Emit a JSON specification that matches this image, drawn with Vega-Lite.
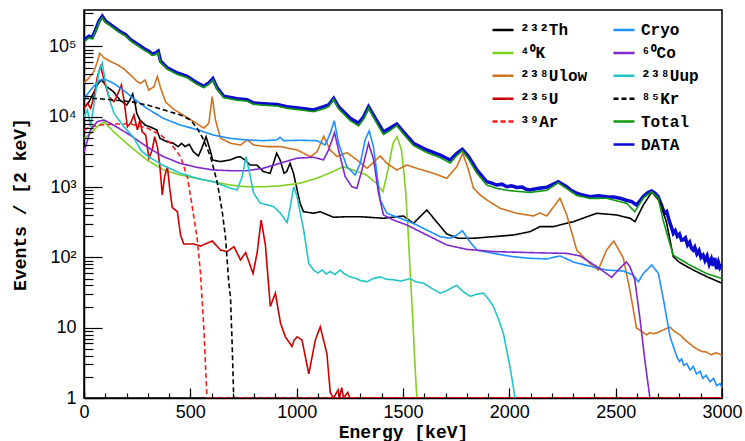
{
"$schema": "https://vega.github.io/schema/vega-lite/v6.json",
"width": 638, "height": 388,
"autosize": {"type": "none"},
"padding": {"left": 84, "top": 10, "right": 23, "bottom": 43},
"background": "white",
"config": {
  "view": {"stroke": "black", "strokeWidth": 1.5},
  "axis": {"labelFont": "Liberation Sans", "labelFontSize": 18, "labelColor": "black", "titleFont": "Liberation Mono", "titleFontWeight": "bold", "titleFontSize": 18, "titleColor": "black", "domainColor": "black", "domainWidth": 1.5, "tickColor": "black", "tickWidth": 1.2, "grid": false, "labelOverlap": false, "labelFlush": false},
  "legend": {"orient": "none", "title": null, "symbolType": "stroke", "symbolSize": 441, "symbolStrokeWidth": 2.5, "labelFont": "Liberation Mono", "labelFontWeight": "bold", "labelFontSize": 16, "labelColor": "black", "rowPadding": 2.9, "labelOffset": 5, "padding": 0, "symbolOpacity": 1}
},
"datasets": {
 "obs": [
  {"s":"DATA","e":3,"v":124000},{"s":"DATA","e":23,"v":140000},{"s":"DATA","e":39,"v":135000},{"s":"DATA","e":55,"v":173000},{"s":"DATA","e":70,"v":228000},{"s":"DATA","e":86,"v":269000},{"s":"DATA","e":102,"v":228000},{"s":"DATA","e":125,"v":204000},{"s":"DATA","e":157,"v":173000},{"s":"DATA","e":180,"v":156000},{"s":"DATA","e":196,"v":147000},{"s":"DATA","e":219,"v":125000},{"s":"DATA","e":243,"v":112000},{"s":"DATA","e":266,"v":101000},{"s":"DATA","e":290,"v":90000},{"s":"DATA","e":305,"v":85500},{"s":"DATA","e":321,"v":78000},{"s":"DATA","e":335,"v":80000},{"s":"DATA","e":349,"v":85500},{"s":"DATA","e":360,"v":62000},{"s":"DATA","e":392,"v":49500},{"s":"DATA","e":439,"v":42000},{"s":"DATA","e":485,"v":37700},{"s":"DATA","e":532,"v":30300},{"s":"DATA","e":563,"v":27200},{"s":"DATA","e":587,"v":30300},{"s":"DATA","e":606,"v":34800},{"s":"DATA","e":626,"v":25700},{"s":"DATA","e":657,"v":19600},{"s":"DATA","e":720,"v":18100},{"s":"DATA","e":767,"v":17500},{"s":"DATA","e":798,"v":15700},{"s":"DATA","e":861,"v":15200},{"s":"DATA","e":908,"v":14900},{"s":"DATA","e":955,"v":13900},{"s":"DATA","e":1017,"v":13200},{"s":"DATA","e":1080,"v":12500},{"s":"DATA","e":1127,"v":13900},{"s":"DATA","e":1150,"v":14700},{"s":"DATA","e":1174,"v":18300},{"s":"DATA","e":1197,"v":13900},{"s":"DATA","e":1252,"v":9500},{"s":"DATA","e":1291,"v":8100},{"s":"DATA","e":1315,"v":10000},{"s":"DATA","e":1338,"v":13900},{"s":"DATA","e":1370,"v":9500},{"s":"DATA","e":1408,"v":6100},{"s":"DATA","e":1440,"v":6900},{"s":"DATA","e":1471,"v":7900},{"s":"DATA","e":1502,"v":6100},{"s":"DATA","e":1549,"v":4200},{"s":"DATA","e":1612,"v":3370},{"s":"DATA","e":1675,"v":2860},{"s":"DATA","e":1722,"v":2430},{"s":"DATA","e":1753,"v":3030},{"s":"DATA","e":1779,"v":3450},{"s":"DATA","e":1808,"v":2710},{"s":"DATA","e":1847,"v":1750},{"s":"DATA","e":1894,"v":1190},{"s":"DATA","e":1915,"v":1150},{"s":"DATA","e":1941,"v":1070},{"s":"DATA","e":1965,"v":1100},{"s":"DATA","e":1988,"v":1010},{"s":"DATA","e":2010,"v":1040},{"s":"DATA","e":2035,"v":986},{"s":"DATA","e":2060,"v":1000},{"s":"DATA","e":2080,"v":930},{"s":"DATA","e":2097,"v":910},{"s":"DATA","e":2113,"v":930},{"s":"DATA","e":2140,"v":960},{"s":"DATA","e":2176,"v":994},{"s":"DATA","e":2200,"v":1080},{"s":"DATA","e":2230,"v":1190},{"s":"DATA","e":2250,"v":1100},{"s":"DATA","e":2270,"v":1010},{"s":"DATA","e":2290,"v":900},{"s":"DATA","e":2317,"v":816},{"s":"DATA","e":2345,"v":770},{"s":"DATA","e":2379,"v":730},{"s":"DATA","e":2420,"v":750},{"s":"DATA","e":2457,"v":730},{"s":"DATA","e":2490,"v":720},{"s":"DATA","e":2520,"v":693},{"s":"DATA","e":2550,"v":650},{"s":"DATA","e":2575,"v":620},{"s":"DATA","e":2598,"v":556},{"s":"DATA","e":2615,"v":640},{"s":"DATA","e":2629,"v":730},{"s":"DATA","e":2650,"v":830},{"s":"DATA","e":2669,"v":880},{"s":"DATA","e":2685,"v":820},{"s":"DATA","e":2700,"v":730},{"s":"DATA","e":2715,"v":560},{"s":"DATA","e":2730,"v":420},{"s":"DATA","e":2740,"v":447},{"s":"DATA","e":2752,"v":330},{"s":"DATA","e":2762,"v":270},{"s":"DATA","e":2771,"v":220},{"s":"DATA","e":2780,"v":240},{"s":"DATA","e":2790,"v":200},{"s":"DATA","e":2800,"v":215},{"s":"DATA","e":2810,"v":175},{"s":"DATA","e":2818,"v":177},{"s":"DATA","e":2828,"v":190},{"s":"DATA","e":2838,"v":150},{"s":"DATA","e":2848,"v":165},{"s":"DATA","e":2856,"v":135},{"s":"DATA","e":2864,"v":127},{"s":"DATA","e":2872,"v":140},{"s":"DATA","e":2882,"v":112},{"s":"DATA","e":2892,"v":125},{"s":"DATA","e":2901,"v":100},{"s":"DATA","e":2911,"v":108},{"s":"DATA","e":2920,"v":90},{"s":"DATA","e":2930,"v":105},{"s":"DATA","e":2940,"v":80},{"s":"DATA","e":2950,"v":95},{"s":"DATA","e":2958,"v":76},{"s":"DATA","e":2966,"v":98},{"s":"DATA","e":2975,"v":68},{"s":"DATA","e":2983,"v":85},{"s":"DATA","e":2990,"v":72},{"s":"DATA","e":2998,"v":80}
 ],
 "left": [
  {"s":"²³²Th","e":5,"v":13900},{"s":"²³²Th","e":20,"v":15600},{"s":"²³²Th","e":36,"v":19300},{"s":"²³²Th","e":52,"v":24000},{"s":"²³²Th","e":67,"v":30000},{"s":"²³²Th","e":83,"v":33400},{"s":"²³²Th","e":107,"v":26800},{"s":"²³²Th","e":138,"v":22800},{"s":"²³²Th","e":169,"v":17300},{"s":"²³²Th","e":201,"v":14700},{"s":"²³²Th","e":216,"v":17300},{"s":"²³²Th","e":229,"v":21100},{"s":"²³²Th","e":240,"v":15600},{"s":"²³²Th","e":248,"v":11200},{"s":"²³²Th","e":263,"v":9000},{"s":"²³²Th","e":287,"v":7640},{"s":"²³²Th","e":310,"v":7200},{"s":"²³²Th","e":342,"v":6500},{"s":"²³²Th","e":357,"v":4940},{"s":"²³²Th","e":389,"v":4430},{"s":"²³²Th","e":420,"v":4200},{"s":"²³²Th","e":443,"v":3760},{"s":"²³²Th","e":459,"v":4200},{"s":"²³²Th","e":475,"v":3760},{"s":"²³²Th","e":495,"v":4060},{"s":"²³²Th","e":514,"v":3190},{"s":"²³²Th","e":538,"v":2770},{"s":"²³²Th","e":554,"v":3560},{"s":"²³²Th","e":574,"v":5200},{"s":"²³²Th","e":593,"v":3370},{"s":"²³²Th","e":605,"v":2430},{"s":"²³²Th","e":640,"v":2300},{"s":"²³²Th","e":687,"v":2430},{"s":"²³²Th","e":718,"v":2660},{"s":"²³²Th","e":734,"v":2710},{"s":"²³²Th","e":757,"v":2430},{"s":"²³²Th","e":781,"v":2060},{"s":"²³²Th","e":812,"v":2060},{"s":"²³²Th","e":844,"v":1660},{"s":"²³²Th","e":875,"v":1570},{"s":"²³²Th","e":891,"v":2180},{"s":"²³²Th","e":906,"v":3030},{"s":"²³²Th","e":922,"v":2430},{"s":"²³²Th","e":941,"v":1570},{"s":"²³²Th","e":953,"v":1660},{"s":"²³²Th","e":969,"v":2180},{"s":"²³²Th","e":985,"v":1570},{"s":"²³²Th","e":1016,"v":589},{"s":"²³²Th","e":1032,"v":447},{"s":"²³²Th","e":1079,"v":424},{"s":"²³²Th","e":1110,"v":447},{"s":"²³²Th","e":1173,"v":372},{"s":"²³²Th","e":1236,"v":379},{"s":"²³²Th","e":1298,"v":379},{"s":"²³²Th","e":1408,"v":360},{"s":"²³²Th","e":1502,"v":388},{"s":"²³²Th","e":1549,"v":305},{"s":"²³²Th","e":1612,"v":472},{"s":"²³²Th","e":1659,"v":317},{"s":"²³²Th","e":1706,"v":215},{"s":"²³²Th","e":1759,"v":187},{"s":"²³²Th","e":1831,"v":187},{"s":"²³²Th","e":1925,"v":197},{"s":"²³²Th","e":2019,"v":208},{"s":"²³²Th","e":2097,"v":232},{"s":"²³²Th","e":2144,"v":274},{"s":"²³²Th","e":2207,"v":274},{"s":"²³²Th","e":2301,"v":322},{"s":"²³²Th","e":2411,"v":424},{"s":"²³²Th","e":2505,"v":401},{"s":"²³²Th","e":2568,"v":360},{"s":"²³²Th","e":2591,"v":322},{"s":"²³²Th","e":2630,"v":556},{"s":"²³²Th","e":2670,"v":851},{"s":"²³²Th","e":2709,"v":620},{"s":"²³²Th","e":2740,"v":305},{"s":"²³²Th","e":2771,"v":102},{"s":"²³²Th","e":2800,"v":85},{"s":"²³²Th","e":2865,"v":66},{"s":"²³²Th","e":2930,"v":53},{"s":"²³²Th","e":2999,"v":43},
  {"s":"⁴⁰K","e":0,"v":4900},{"s":"⁴⁰K","e":31,"v":5800},{"s":"⁴⁰K","e":62,"v":7200},{"s":"⁴⁰K","e":93,"v":8500},{"s":"⁴⁰K","e":140,"v":6100},{"s":"⁴⁰K","e":218,"v":3760},{"s":"⁴⁰K","e":296,"v":2430},{"s":"⁴⁰K","e":374,"v":1750},{"s":"⁴⁰K","e":452,"v":1490},{"s":"⁴⁰K","e":530,"v":1330},{"s":"⁴⁰K","e":608,"v":1190},{"s":"⁴⁰K","e":686,"v":1070},{"s":"⁴⁰K","e":765,"v":1010},{"s":"⁴⁰K","e":843,"v":1010},{"s":"⁴⁰K","e":921,"v":1040},{"s":"⁴⁰K","e":1014,"v":1130},{"s":"⁴⁰K","e":1093,"v":1330},{"s":"⁴⁰K","e":1171,"v":1660},{"s":"⁴⁰K","e":1218,"v":1950},{"s":"⁴⁰K","e":1265,"v":1750},{"s":"⁴⁰K","e":1328,"v":1490},{"s":"⁴⁰K","e":1375,"v":1130},{"s":"⁴⁰K","e":1406,"v":860},{"s":"⁴⁰K","e":1429,"v":1750},{"s":"⁴⁰K","e":1453,"v":4200},{"s":"⁴⁰K","e":1472,"v":5200},{"s":"⁴⁰K","e":1493,"v":3370},{"s":"⁴⁰K","e":1505,"v":1500},{"s":"⁴⁰K","e":1513,"v":816},{"s":"⁴⁰K","e":1522,"v":300},{"s":"⁴⁰K","e":1532,"v":80},{"s":"⁴⁰K","e":1545,"v":15},{"s":"⁴⁰K","e":1555,"v":3.5},{"s":"⁴⁰K","e":1565,"v":1},
  {"s":"²³⁸Ulow","e":0,"v":30300},{"s":"²³⁸Ulow","e":23,"v":35600},{"s":"²³⁸Ulow","e":47,"v":44400},{"s":"²³⁸Ulow","e":63,"v":61000},{"s":"²³⁸Ulow","e":74,"v":80000},{"s":"²³⁸Ulow","e":94,"v":69000},{"s":"²³⁸Ulow","e":125,"v":61000},{"s":"²³⁸Ulow","e":157,"v":55000},{"s":"²³⁸Ulow","e":188,"v":47900},{"s":"²³⁸Ulow","e":219,"v":39300},{"s":"²³⁸Ulow","e":251,"v":31600},{"s":"²³⁸Ulow","e":266,"v":29800},{"s":"²³⁸Ulow","e":287,"v":33400},{"s":"²³⁸Ulow","e":305,"v":24000},{"s":"²³⁸Ulow","e":329,"v":26800},{"s":"²³⁸Ulow","e":345,"v":37400},{"s":"²³⁸Ulow","e":360,"v":25700},{"s":"²³⁸Ulow","e":384,"v":16200},{"s":"²³⁸Ulow","e":423,"v":12700},{"s":"²³⁸Ulow","e":470,"v":10400},{"s":"²³⁸Ulow","e":517,"v":8500},{"s":"²³⁸Ulow","e":563,"v":6900},{"s":"²³⁸Ulow","e":587,"v":8100},{"s":"²³⁸Ulow","e":603,"v":19300},{"s":"²³⁸Ulow","e":618,"v":9000},{"s":"²³⁸Ulow","e":642,"v":4940},{"s":"²³⁸Ulow","e":689,"v":4200},{"s":"²³⁸Ulow","e":736,"v":3970},{"s":"²³⁸Ulow","e":767,"v":4680},{"s":"²³⁸Ulow","e":798,"v":3970},{"s":"²³⁸Ulow","e":861,"v":3760},{"s":"²³⁸Ulow","e":924,"v":3760},{"s":"²³⁸Ulow","e":1002,"v":3370},{"s":"²³⁸Ulow","e":1065,"v":2710},{"s":"²³⁸Ulow","e":1096,"v":3190},{"s":"²³⁸Ulow","e":1127,"v":5300},{"s":"²³⁸Ulow","e":1158,"v":3370},{"s":"²³⁸Ulow","e":1190,"v":2710},{"s":"²³⁸Ulow","e":1237,"v":3090},{"s":"²³⁸Ulow","e":1284,"v":2430},{"s":"²³⁸Ulow","e":1331,"v":1850},{"s":"²³⁸Ulow","e":1393,"v":2770},{"s":"²³⁸Ulow","e":1424,"v":2180},{"s":"²³⁸Ulow","e":1471,"v":1750},{"s":"²³⁸Ulow","e":1518,"v":2060},{"s":"²³⁸Ulow","e":1565,"v":1850},{"s":"²³⁸Ulow","e":1643,"v":1570},{"s":"²³⁸Ulow","e":1706,"v":1330},{"s":"²³⁸Ulow","e":1753,"v":1950},{"s":"²³⁸Ulow","e":1781,"v":3030},{"s":"²³⁸Ulow","e":1808,"v":1750},{"s":"²³⁸Ulow","e":1831,"v":971},{"s":"²³⁸Ulow","e":1863,"v":772},{"s":"²³⁸Ulow","e":1894,"v":656},{"s":"²³⁸Ulow","e":1957,"v":499},{"s":"²³⁸Ulow","e":2035,"v":424},{"s":"²³⁸Ulow","e":2113,"v":388},{"s":"²³⁸Ulow","e":2144,"v":428},{"s":"²³⁸Ulow","e":2176,"v":388},{"s":"²³⁸Ulow","e":2238,"v":693},{"s":"²³⁸Ulow","e":2270,"v":401},{"s":"²³⁸Ulow","e":2317,"v":127},{"s":"²³⁸Ulow","e":2379,"v":82},{"s":"²³⁸Ulow","e":2418,"v":66},{"s":"²³⁸Ulow","e":2457,"v":127},{"s":"²³⁸Ulow","e":2491,"v":171},{"s":"²³⁸Ulow","e":2536,"v":98},{"s":"²³⁸Ulow","e":2567,"v":34},{"s":"²³⁸Ulow","e":2598,"v":9.9},{"s":"²³⁸Ulow","e":2645,"v":7.9},{"s":"²³⁸Ulow","e":2660,"v":8.5},{"s":"²³⁸Ulow","e":2680,"v":8.2},{"s":"²³⁸Ulow","e":2708,"v":8.8},{"s":"²³⁸Ulow","e":2730,"v":9.5},{"s":"²³⁸Ulow","e":2756,"v":10.2},{"s":"²³⁸Ulow","e":2770,"v":9.2},{"s":"²³⁸Ulow","e":2785,"v":8.5},{"s":"²³⁸Ulow","e":2803,"v":7.9},{"s":"²³⁸Ulow","e":2820,"v":7.0},{"s":"²³⁸Ulow","e":2840,"v":6.2},{"s":"²³⁸Ulow","e":2865,"v":5.4},{"s":"²³⁸Ulow","e":2885,"v":4.9},{"s":"²³⁸Ulow","e":2905,"v":4.6},{"s":"²³⁸Ulow","e":2928,"v":4.5},{"s":"²³⁸Ulow","e":2950,"v":4.1},{"s":"²³⁸Ulow","e":2970,"v":4.4},{"s":"²³⁸Ulow","e":2991,"v":4.2},{"s":"²³⁸Ulow","e":3000,"v":4.0},
  {"s":"²³⁵U","e":0,"v":13200},{"s":"²³⁵U","e":16,"v":15600},{"s":"²³⁵U","e":31,"v":13200},{"s":"²³⁵U","e":47,"v":19300},{"s":"²³⁵U","e":63,"v":37200},{"s":"²³⁵U","e":78,"v":52000},{"s":"²³⁵U","e":94,"v":33400},{"s":"²³⁵U","e":117,"v":19300},{"s":"²³⁵U","e":141,"v":16400},{"s":"²³⁵U","e":157,"v":20400},{"s":"²³⁵U","e":176,"v":28300},{"s":"²³⁵U","e":188,"v":17300},{"s":"²³⁵U","e":204,"v":7200},{"s":"²³⁵U","e":219,"v":8100},{"s":"²³⁵U","e":235,"v":10600},{"s":"²³⁵U","e":251,"v":6500},{"s":"²³⁵U","e":263,"v":9000},{"s":"²³⁵U","e":274,"v":6100},{"s":"²³⁵U","e":290,"v":5500},{"s":"²³⁵U","e":305,"v":2570},{"s":"²³⁵U","e":321,"v":3370},{"s":"²³⁵U","e":332,"v":5200},{"s":"²³⁵U","e":345,"v":3760},{"s":"²³⁵U","e":357,"v":1950},{"s":"²³⁵U","e":368,"v":772},{"s":"²³⁵U","e":379,"v":1410},{"s":"²³⁵U","e":392,"v":1950},{"s":"²³⁵U","e":404,"v":910},{"s":"²³⁵U","e":415,"v":513},{"s":"²³⁵U","e":439,"v":447},{"s":"²³⁵U","e":454,"v":208},{"s":"²³⁵U","e":469,"v":155},{"s":"²³⁵U","e":516,"v":155},{"s":"²³⁵U","e":548,"v":145},{"s":"²³⁵U","e":603,"v":171},{"s":"²³⁵U","e":642,"v":127},{"s":"²³⁵U","e":673,"v":121},{"s":"²³⁵U","e":705,"v":142},{"s":"²³⁵U","e":736,"v":92},{"s":"²³⁵U","e":760,"v":117},{"s":"²³⁵U","e":795,"v":59},{"s":"²³⁵U","e":814,"v":116},{"s":"²³⁵U","e":833,"v":340},{"s":"²³⁵U","e":853,"v":150},{"s":"²³⁵U","e":876,"v":20},{"s":"²³⁵U","e":900,"v":31},{"s":"²³⁵U","e":924,"v":11.6},{"s":"²³⁵U","e":947,"v":7.4},{"s":"²³⁵U","e":978,"v":5.4},{"s":"²³⁵U","e":989,"v":6.7},{"s":"²³⁵U","e":1002,"v":7.4},{"s":"²³⁵U","e":1025,"v":6.7},{"s":"²³⁵U","e":1057,"v":2.2},{"s":"²³⁵U","e":1088,"v":6.7},{"s":"²³⁵U","e":1111,"v":10.3},{"s":"²³⁵U","e":1142,"v":4.3},{"s":"²³⁵U","e":1158,"v":1.2},{"s":"²³⁵U","e":1173,"v":1},{"s":"²³⁵U","e":1195,"v":1.3},{"s":"²³⁵U","e":1200,"v":1},{"s":"²³⁵U","e":1212,"v":1.4},{"s":"²³⁵U","e":1220,"v":1},{"s":"²³⁵U","e":1240,"v":1.2},{"s":"²³⁵U","e":1250,"v":1},{"s":"²³⁵U","e":3000,"v":1},
  {"s":"³⁹Ar","e":0,"v":6500},{"s":"³⁹Ar","e":31,"v":7200},{"s":"³⁹Ar","e":78,"v":7640},{"s":"³⁹Ar","e":141,"v":7900},{"s":"³⁹Ar","e":219,"v":7900},{"s":"³⁹Ar","e":298,"v":6900},{"s":"³⁹Ar","e":360,"v":5500},{"s":"³⁹Ar","e":407,"v":4200},{"s":"³⁹Ar","e":454,"v":2710},{"s":"³⁹Ar","e":486,"v":1390},{"s":"³⁹Ar","e":509,"v":526},{"s":"³⁹Ar","e":533,"v":177},{"s":"³⁹Ar","e":548,"v":59},{"s":"³⁹Ar","e":564,"v":9.3},{"s":"³⁹Ar","e":577,"v":1.17},{"s":"³⁹Ar","e":581,"v":1},{"s":"³⁹Ar","e":3000,"v":1}
 ],
 "right": [
  {"s":"Cryo","e":0,"v":18300},{"s":"Cryo","e":44,"v":26800},{"s":"Cryo","e":75,"v":33400},{"s":"Cryo","e":99,"v":34100},{"s":"Cryo","e":138,"v":30000},{"s":"Cryo","e":185,"v":24000},{"s":"Cryo","e":232,"v":18300},{"s":"Cryo","e":295,"v":13200},{"s":"Cryo","e":373,"v":9500},{"s":"Cryo","e":451,"v":7640},{"s":"Cryo","e":530,"v":6600},{"s":"Cryo","e":608,"v":5500},{"s":"Cryo","e":686,"v":4940},{"s":"Cryo","e":765,"v":4680},{"s":"Cryo","e":843,"v":4570},{"s":"Cryo","e":906,"v":4680},{"s":"Cryo","e":922,"v":5100},{"s":"Cryo","e":938,"v":4570},{"s":"Cryo","e":1016,"v":4630},{"s":"Cryo","e":1095,"v":4570},{"s":"Cryo","e":1134,"v":3970},{"s":"Cryo","e":1158,"v":5800},{"s":"Cryo","e":1177,"v":8800},{"s":"Cryo","e":1197,"v":4200},{"s":"Cryo","e":1236,"v":1950},{"s":"Cryo","e":1275,"v":1490},{"s":"Cryo","e":1299,"v":2180},{"s":"Cryo","e":1322,"v":4680},{"s":"Cryo","e":1341,"v":6300},{"s":"Cryo","e":1361,"v":3760},{"s":"Cryo","e":1393,"v":656},{"s":"Cryo","e":1424,"v":424},{"s":"Cryo","e":1487,"v":360},{"s":"Cryo","e":1549,"v":305},{"s":"Cryo","e":1612,"v":245},{"s":"Cryo","e":1675,"v":197},{"s":"Cryo","e":1722,"v":187},{"s":"Cryo","e":1753,"v":208},{"s":"Cryo","e":1779,"v":240},{"s":"Cryo","e":1808,"v":177},{"s":"Cryo","e":1847,"v":127},{"s":"Cryo","e":1925,"v":114},{"s":"Cryo","e":2019,"v":102},{"s":"Cryo","e":2097,"v":97},{"s":"Cryo","e":2176,"v":95},{"s":"Cryo","e":2238,"v":105},{"s":"Cryo","e":2301,"v":86},{"s":"Cryo","e":2379,"v":75},{"s":"Cryo","e":2457,"v":66},{"s":"Cryo","e":2536,"v":64},{"s":"Cryo","e":2583,"v":56},{"s":"Cryo","e":2607,"v":45},{"s":"Cryo","e":2630,"v":59},{"s":"Cryo","e":2670,"v":78},{"s":"Cryo","e":2701,"v":59},{"s":"Cryo","e":2725,"v":24.8},{"s":"Cryo","e":2756,"v":7.4},{"s":"Cryo","e":2787,"v":3.9},{"s":"Cryo","e":2800,"v":3.3},{"s":"Cryo","e":2810,"v":3.6},{"s":"Cryo","e":2820,"v":2.9},{"s":"Cryo","e":2834,"v":3.1},{"s":"Cryo","e":2850,"v":2.5},{"s":"Cryo","e":2865,"v":2.8},{"s":"Cryo","e":2880,"v":2.2},{"s":"Cryo","e":2897,"v":2.4},{"s":"Cryo","e":2910,"v":1.9},{"s":"Cryo","e":2925,"v":2.1},{"s":"Cryo","e":2944,"v":1.7},{"s":"Cryo","e":2960,"v":1.9},{"s":"Cryo","e":2975,"v":1.5},{"s":"Cryo","e":2991,"v":1.6},{"s":"Cryo","e":3000,"v":1.4},
  {"s":"⁶⁰Co","e":0,"v":3160},{"s":"⁶⁰Co","e":31,"v":6500},{"s":"⁶⁰Co","e":62,"v":8500},{"s":"⁶⁰Co","e":93,"v":9000},{"s":"⁶⁰Co","e":138,"v":7640},{"s":"⁶⁰Co","e":216,"v":5500},{"s":"⁶⁰Co","e":295,"v":3760},{"s":"⁶⁰Co","e":373,"v":2710},{"s":"⁶⁰Co","e":451,"v":2180},{"s":"⁶⁰Co","e":530,"v":1910},{"s":"⁶⁰Co","e":608,"v":1750},{"s":"⁶⁰Co","e":686,"v":1710},{"s":"⁶⁰Co","e":765,"v":1710},{"s":"⁶⁰Co","e":843,"v":1850},{"s":"⁶⁰Co","e":921,"v":2180},{"s":"⁶⁰Co","e":1000,"v":2570},{"s":"⁶⁰Co","e":1079,"v":2660},{"s":"⁶⁰Co","e":1126,"v":2430},{"s":"⁶⁰Co","e":1150,"v":3370},{"s":"⁶⁰Co","e":1178,"v":5900},{"s":"⁶⁰Co","e":1197,"v":3370},{"s":"⁶⁰Co","e":1228,"v":1410},{"s":"⁶⁰Co","e":1260,"v":1010},{"s":"⁶⁰Co","e":1283,"v":962},{"s":"⁶⁰Co","e":1307,"v":1750},{"s":"⁶⁰Co","e":1338,"v":4200},{"s":"⁶⁰Co","e":1362,"v":2430},{"s":"⁶⁰Co","e":1385,"v":816},{"s":"⁶⁰Co","e":1408,"v":401},{"s":"⁶⁰Co","e":1455,"v":340},{"s":"⁶⁰Co","e":1518,"v":289},{"s":"⁶⁰Co","e":1612,"v":208},{"s":"⁶⁰Co","e":1706,"v":150},{"s":"⁶⁰Co","e":1800,"v":130},{"s":"⁶⁰Co","e":1925,"v":121},{"s":"⁶⁰Co","e":2097,"v":117},{"s":"⁶⁰Co","e":2270,"v":114},{"s":"⁶⁰Co","e":2332,"v":105},{"s":"⁶⁰Co","e":2411,"v":74},{"s":"⁶⁰Co","e":2481,"v":52},{"s":"⁶⁰Co","e":2520,"v":70},{"s":"⁶⁰Co","e":2550,"v":86},{"s":"⁶⁰Co","e":2567,"v":74},{"s":"⁶⁰Co","e":2590,"v":48},{"s":"⁶⁰Co","e":2614,"v":13.7},{"s":"⁶⁰Co","e":2637,"v":3.5},{"s":"⁶⁰Co","e":2661,"v":1},
  {"s":"²³⁸Uup","e":0,"v":10000},{"s":"²³⁸Uup","e":16,"v":12500},{"s":"²³⁸Uup","e":31,"v":7200},{"s":"²³⁸Uup","e":55,"v":22500},{"s":"²³⁸Uup","e":70,"v":43400},{"s":"²³⁸Uup","e":86,"v":58000},{"s":"²³⁸Uup","e":102,"v":29300},{"s":"²³⁸Uup","e":125,"v":15700},{"s":"²³⁸Uup","e":141,"v":11200},{"s":"²³⁸Uup","e":188,"v":7200},{"s":"²³⁸Uup","e":235,"v":5000},{"s":"²³⁸Uup","e":266,"v":3370},{"s":"²³⁸Uup","e":298,"v":2770},{"s":"²³⁸Uup","e":376,"v":2000},{"s":"²³⁸Uup","e":454,"v":1570},{"s":"²³⁸Uup","e":532,"v":1330},{"s":"²³⁸Uup","e":610,"v":1190},{"s":"²³⁸Uup","e":689,"v":962},{"s":"²³⁸Uup","e":720,"v":910},{"s":"²³⁸Uup","e":744,"v":1410},{"s":"²³⁸Uup","e":762,"v":2710},{"s":"²³⁸Uup","e":782,"v":1410},{"s":"²³⁸Uup","e":798,"v":816},{"s":"²³⁸Uup","e":829,"v":589},{"s":"²³⁸Uup","e":860,"v":560},{"s":"²³⁸Uup","e":892,"v":526},{"s":"²³⁸Uup","e":924,"v":424},{"s":"²³⁸Uup","e":955,"v":312},{"s":"²³⁸Uup","e":970,"v":526},{"s":"²³⁸Uup","e":986,"v":1010},{"s":"²³⁸Uup","e":1002,"v":730},{"s":"²³⁸Uup","e":1033,"v":245},{"s":"²³⁸Uup","e":1057,"v":82},{"s":"²³⁸Uup","e":1080,"v":66},{"s":"²³⁸Uup","e":1100,"v":60},{"s":"²³⁸Uup","e":1120,"v":66},{"s":"²³⁸Uup","e":1140,"v":58},{"s":"²³⁸Uup","e":1158,"v":63},{"s":"²³⁸Uup","e":1180,"v":57},{"s":"²³⁸Uup","e":1205,"v":66},{"s":"²³⁸Uup","e":1225,"v":58},{"s":"²³⁸Uup","e":1252,"v":53},{"s":"²³⁸Uup","e":1280,"v":50},{"s":"²³⁸Uup","e":1300,"v":47},{"s":"²³⁸Uup","e":1330,"v":45},{"s":"²³⁸Uup","e":1360,"v":50},{"s":"²³⁸Uup","e":1393,"v":53},{"s":"²³⁸Uup","e":1420,"v":49},{"s":"²³⁸Uup","e":1455,"v":48},{"s":"²³⁸Uup","e":1490,"v":46},{"s":"²³⁸Uup","e":1534,"v":50},{"s":"²³⁸Uup","e":1560,"v":45},{"s":"²³⁸Uup","e":1596,"v":43},{"s":"²³⁸Uup","e":1630,"v":37},{"s":"²³⁸Uup","e":1675,"v":31},{"s":"²³⁸Uup","e":1700,"v":33},{"s":"²³⁸Uup","e":1730,"v":37},{"s":"²³⁸Uup","e":1753,"v":40},{"s":"²³⁸Uup","e":1780,"v":33},{"s":"²³⁸Uup","e":1816,"v":28},{"s":"²³⁸Uup","e":1850,"v":30},{"s":"²³⁸Uup","e":1878,"v":31},{"s":"²³⁸Uup","e":1900,"v":26},{"s":"²³⁸Uup","e":1925,"v":20},{"s":"²³⁸Uup","e":1950,"v":13},{"s":"²³⁸Uup","e":1972,"v":8.3},{"s":"²³⁸Uup","e":2003,"v":2.8},{"s":"²³⁸Uup","e":2027,"v":1},
  {"s":"⁸⁵Kr","e":0,"v":18200},{"s":"⁸⁵Kr","e":63,"v":18200},{"s":"⁸⁵Kr","e":141,"v":17300},{"s":"⁸⁵Kr","e":219,"v":16400},{"s":"⁸⁵Kr","e":298,"v":14700},{"s":"⁸⁵Kr","e":376,"v":12500},{"s":"⁸⁵Kr","e":454,"v":10600},{"s":"⁸⁵Kr","e":501,"v":9000},{"s":"⁸⁵Kr","e":532,"v":6900},{"s":"⁸⁵Kr","e":563,"v":4680},{"s":"⁸⁵Kr","e":595,"v":2710},{"s":"⁸⁵Kr","e":626,"v":1190},{"s":"⁸⁵Kr","e":650,"v":447},{"s":"⁸⁵Kr","e":665,"v":197},{"s":"⁸⁵Kr","e":681,"v":43},{"s":"⁸⁵Kr","e":689,"v":27},{"s":"⁸⁵Kr","e":697,"v":5.4},{"s":"⁸⁵Kr","e":704,"v":1},
  {"s":"Total","e":3,"v":118000},{"s":"Total","e":23,"v":133000},{"s":"Total","e":39,"v":128000},{"s":"Total","e":55,"v":165000},{"s":"Total","e":70,"v":218000},{"s":"Total","e":86,"v":258000},{"s":"Total","e":102,"v":218000},{"s":"Total","e":125,"v":196000},{"s":"Total","e":157,"v":166000},{"s":"Total","e":180,"v":150000},{"s":"Total","e":196,"v":141000},{"s":"Total","e":219,"v":120000},{"s":"Total","e":243,"v":107000},{"s":"Total","e":266,"v":96000},{"s":"Total","e":290,"v":86000},{"s":"Total","e":305,"v":81500},{"s":"Total","e":321,"v":74500},{"s":"Total","e":335,"v":76500},{"s":"Total","e":349,"v":81500},{"s":"Total","e":360,"v":59000},{"s":"Total","e":392,"v":47500},{"s":"Total","e":439,"v":40000},{"s":"Total","e":485,"v":36000},{"s":"Total","e":532,"v":29000},{"s":"Total","e":563,"v":26000},{"s":"Total","e":587,"v":29000},{"s":"Total","e":606,"v":33500},{"s":"Total","e":626,"v":24500},{"s":"Total","e":657,"v":18700},{"s":"Total","e":720,"v":17200},{"s":"Total","e":767,"v":16700},{"s":"Total","e":798,"v":15000},{"s":"Total","e":861,"v":14500},{"s":"Total","e":908,"v":14200},{"s":"Total","e":955,"v":13200},{"s":"Total","e":1017,"v":12500},{"s":"Total","e":1080,"v":11800},{"s":"Total","e":1127,"v":13000},{"s":"Total","e":1150,"v":13900},{"s":"Total","e":1174,"v":17800},{"s":"Total","e":1197,"v":13000},{"s":"Total","e":1252,"v":8800},{"s":"Total","e":1291,"v":7400},{"s":"Total","e":1315,"v":9300},{"s":"Total","e":1338,"v":13300},{"s":"Total","e":1370,"v":8800},{"s":"Total","e":1408,"v":5600},{"s":"Total","e":1440,"v":6400},{"s":"Total","e":1471,"v":7500},{"s":"Total","e":1502,"v":5700},{"s":"Total","e":1549,"v":3900},{"s":"Total","e":1612,"v":3100},{"s":"Total","e":1675,"v":2620},{"s":"Total","e":1722,"v":2200},{"s":"Total","e":1753,"v":2800},{"s":"Total","e":1779,"v":3300},{"s":"Total","e":1808,"v":2500},{"s":"Total","e":1847,"v":1580},{"s":"Total","e":1894,"v":1070},{"s":"Total","e":1941,"v":960},{"s":"Total","e":1988,"v":900},{"s":"Total","e":2035,"v":870},{"s":"Total","e":2097,"v":840},{"s":"Total","e":2176,"v":900},{"s":"Total","e":2230,"v":1150},{"s":"Total","e":2270,"v":950},{"s":"Total","e":2317,"v":760},{"s":"Total","e":2379,"v":690},{"s":"Total","e":2457,"v":693},{"s":"Total","e":2551,"v":589},{"s":"Total","e":2590,"v":447},{"s":"Total","e":2630,"v":700},{"s":"Total","e":2669,"v":860},{"s":"Total","e":2700,"v":700},{"s":"Total","e":2723,"v":340},{"s":"Total","e":2770,"v":108},{"s":"Total","e":2848,"v":78},{"s":"Total","e":2927,"v":59},{"s":"Total","e":2999,"v":50}
 ]
},
"resolve": {"axis": {"x": "independent", "y": "independent"}},
"layer": [
  {"data": {"name": "obs"}, "mark": {"type": "line", "strokeWidth": 3.5, "clip": true},
   "encoding": {
     "x": {"field": "e", "type": "quantitative", "scale": {"domain": [0, 3000], "nice": false},
       "axis": {"orient": "bottom", "title": "Energy [keV]", "values": [0,500,1000,1500,2000,2500,3000], "format": "d", "ticks": false, "labelPadding": 5, "titleY": 39, "titleBaseline": "alphabetic"}},
     "y": {"field": "v", "type": "quantitative", "scale": {"type": "log", "domain": [1, 330000], "nice": false},
       "axis": {"orient": "left", "title": "Events / [2 keV]", "values": [1,10,100,1000,10000,100000], "ticks": false,
         "labelExpr": "datum.value == 1 ? '1' : datum.value == 10 ? '10' : datum.value == 100 ? '10²' : datum.value == 1000 ? '10³' : datum.value == 10000 ? '10⁴' : '10⁵'",
         "labelPadding": 8, "titleX": -59, "titleBaseline": "alphabetic"}},
     "stroke": {"field": "s", "type": "nominal",
      "scale": {"domain": ["Cryo","⁶⁰Co","²³⁸Uup","⁸⁵Kr","Total","DATA"], "range": ["#1e90ff","#7f28cc","#22c4c8","#000000","#119911","#0a0ad0"]},
      "legend": {"legendX": 528, "legendY": 8, "encode": {"symbols": {"update": {"strokeDash": {"signal": "datum.value === '⁸⁵Kr' ? [5,3] : [1,0]"}}}}}}}},
  {"data": {"name": "left"}, "mark": {"type": "line", "strokeWidth": 1.6, "clip": true},
   "encoding": {
     "x": {"field": "e", "type": "quantitative", "scale": {"domain": [0, 3000], "nice": false},
       "axis": {"orient": "bottom", "offset": -10, "title": null, "labels": false, "domain": false, "zindex": 1,
         "values": [0,500,1000,1500,2000,2500,3000], "tickSize": 10}},
     "y": {"field": "v", "type": "quantitative", "scale": {"type": "log", "domain": [1, 330000], "nice": false},
       "axis": {"orient": "right", "offset": -638, "title": null, "labels": false, "domain": false, "zindex": 1,
         "values": [1,2,3,4,5,6,7,8,9,10,20,30,40,50,60,70,80,90,100,200,300,400,500,600,700,800,900,1000,2000,3000,4000,5000,6000,7000,8000,9000,10000,20000,30000,40000,50000,60000,70000,80000,90000,100000,200000,300000],
         "tickSize": {"condition": {"test": "datum.value == 1 || datum.value == 10 || datum.value == 100 || datum.value == 1000 || datum.value == 10000 || datum.value == 100000", "value": 18}, "value": 9}}},
     "color": {"field": "s", "type": "nominal",
      "scale": {"domain": ["²³²Th","⁴⁰K","²³⁸Ulow","²³⁵U","³⁹Ar"], "range": ["#000000","#80d020","#cd7320","#cc0000","#ff1a1a"]},
      "legend": {"legendX": 407, "legendY": 8, "encode": {"symbols": {"update": {"strokeDash": {"signal": "datum.value === '³⁹Ar' ? [5,3] : [1,0]"}}}}}},
     "strokeDash": {"field": "s", "type": "nominal", "legend": null,
      "scale": {"domain": ["²³²Th","⁴⁰K","²³⁸Ulow","²³⁵U","³⁹Ar","Cryo","⁶⁰Co","²³⁸Uup","⁸⁵Kr","Total","DATA"], "range": [[1,0],[1,0],[1,0],[1,0],[5,3],[1,0],[1,0],[1,0],[5,3],[1,0],[1,0]]}}}},
  {"data": {"name": "right"}, "mark": {"type": "line", "strokeWidth": 1.6, "clip": true},
   "encoding": {
     "x": {"field": "e", "type": "quantitative", "scale": {"domain": [0, 3000], "nice": false},
       "axis": {"orient": "bottom", "offset": -5, "title": null, "labels": false, "domain": false, "zindex": 1,
         "values": [0,100,200,300,400,500,600,700,800,900,1000,1100,1200,1300,1400,1500,1600,1700,1800,1900,2000,2100,2200,2300,2400,2500,2600,2700,2800,2900,3000], "tickSize": 5}},
     "y": {"field": "v", "type": "quantitative", "scale": {"type": "log", "domain": [1, 330000], "nice": false}, "axis": null},
     "stroke": {"field": "s", "type": "nominal",
      "scale": {"domain": ["Cryo","⁶⁰Co","²³⁸Uup","⁸⁵Kr","Total","DATA"], "range": ["#1e90ff","#7f28cc","#22c4c8","#000000","#119911","#0a0ad0"]},
      "legend": {"legendX": 528, "legendY": 8, "encode": {"symbols": {"update": {"strokeDash": {"signal": "datum.value === '⁸⁵Kr' ? [5,3] : [1,0]"}}}}}},
     "strokeDash": {"field": "s", "type": "nominal", "legend": null,
      "scale": {"domain": ["²³²Th","⁴⁰K","²³⁸Ulow","²³⁵U","³⁹Ar","Cryo","⁶⁰Co","²³⁸Uup","⁸⁵Kr","Total","DATA"], "range": [[1,0],[1,0],[1,0],[1,0],[5,3],[1,0],[1,0],[1,0],[5,3],[1,0],[1,0]]}}}}
]
}
